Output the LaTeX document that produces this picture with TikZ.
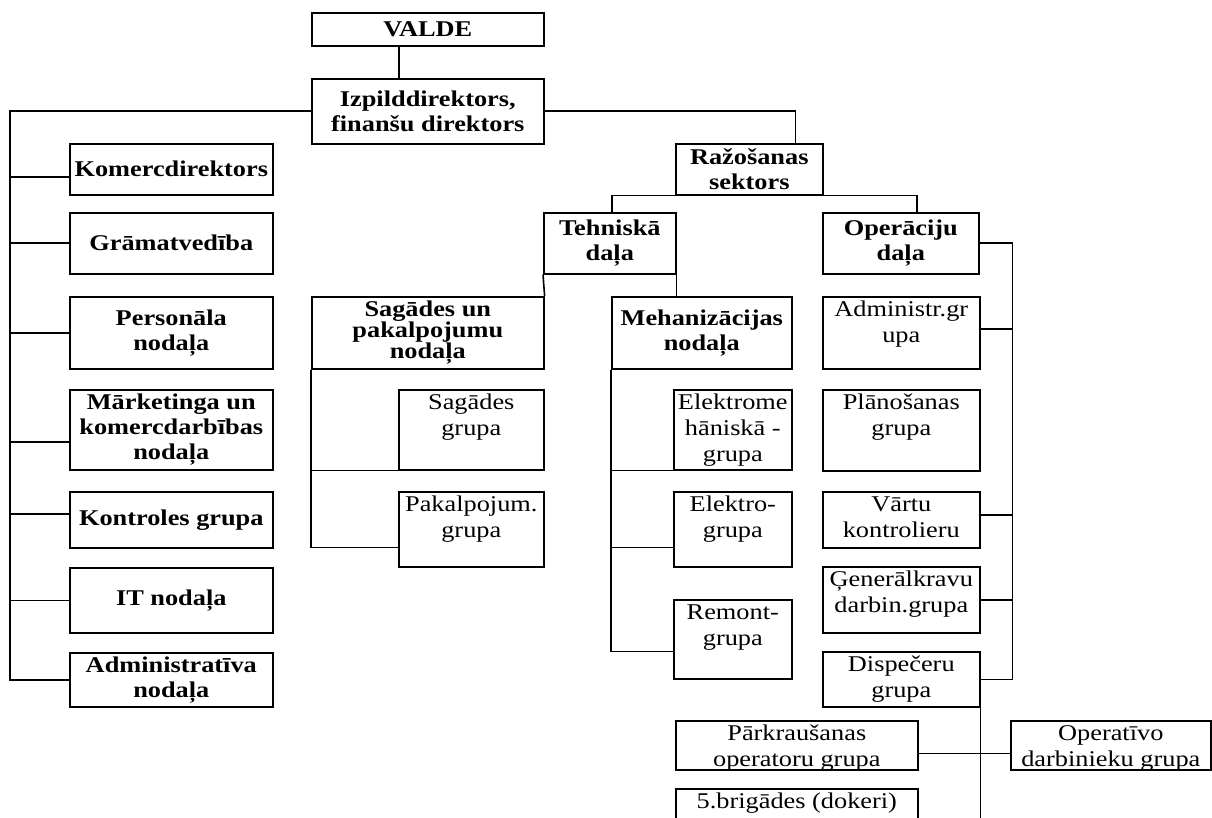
\documentclass[tikz,border=0pt]{standalone}
\usepackage{fontspec}
\setmainfont{Liberation Serif}[FakeStretch=1.17]
\usepackage{tikz}

\tikzset{
  unit/.style={draw, anchor=north west, inner sep=0pt, align=center,
    font=\bfseries\fontsize{22.5}{25}\selectfont},
  grp/.style 2 args={draw, anchor=north west, inner sep=0pt, align=center,
    font=\fontsize{22.5}{26}\selectfont, text height=#1, text depth=#2}
}

\begin{document}
\begin{tikzpicture}[x=1pt, y=-1pt, line width=1.6pt]
    \useasboundingbox (0,0) rectangle (1212,818);

    \node[unit, minimum width=232pt, minimum height=33pt] (valde) at (311,12) {VALDE};
    \node[unit, minimum width=232pt, minimum height=65pt] (izp) at (311,78) {Izpilddirektors,\\finanšu direktors};

    \node[unit, minimum width=203pt, minimum height=51pt] (kom) at (69,143) {Komercdirektors};
    \node[unit, minimum width=203pt, minimum height=61pt] (gram) at (69,212) {Grāmatvedība};
    \node[unit, minimum width=203pt, minimum height=72pt] (pers) at (69,296) {Personāla\\nodaļa};
    \node[unit, minimum width=203pt, minimum height=80pt] (mark) at (69,389) {Mārketinga un\\komercdarbības\\nodaļa};
    \node[unit, minimum width=203pt, minimum height=56pt] (kontr) at (69,491) {Kontroles grupa};
    \node[unit, minimum width=203pt, minimum height=65pt] (it) at (69,567) {IT nodaļa};
    \node[unit, minimum width=203pt, minimum height=54pt] (adm) at (69,652) {Administratīva\\nodaļa};

    \node[unit, minimum width=147pt, minimum height=51pt] (raz) at (675,143) {Ražošanas\\sektors};
    \node[unit, minimum width=132pt, minimum height=61pt] (teh) at (543,212) {Tehniskā\\daļa};
    \node[unit, minimum width=156pt, minimum height=61pt] (oper) at (822,212) {Operāciju\\daļa};
    \node[unit, minimum width=232pt, minimum height=72pt] (sag) at (311,296) {Sagādes un\\[-4pt]pakalpojumu\\[-4pt]nodaļa};
    \node[unit, minimum width=180pt, minimum height=72pt] (meh) at (611,296) {Mehanizācijas\\nodaļa};

    \node[grp={46pt}{34pt}, minimum width=145pt] (sgr) at (398,389) {Sagādes\\grupa};
    \node[grp={46pt}{29pt}, minimum width=145pt] (pgr) at (398,491) {Pakalpojum.\\grupa};

    \node[grp={72pt}{8pt}, minimum width=118pt] (elm) at (673,389) {Elektrome\\hāniskā -\\grupa};
    \node[grp={46pt}{29pt}, minimum width=118pt] (elg) at (673,491) {Elektro-\\grupa};
    \node[grp={46pt}{33pt}, minimum width=118pt] (rem) at (673,599) {Remont-\\grupa};

    \node[grp={46pt}{26pt}, minimum width=157pt] (adg) at (822,296) {Administr.gr\\upa};
    \node[grp={46pt}{35pt}, minimum width=157pt] (plan) at (822,389) {Plānošanas\\grupa};
    \node[grp={46pt}{10pt}, minimum width=157pt] (vart) at (822,491) {Vārtu\\kontrolieru};
    \node[grp={46pt}{20pt}, minimum width=157pt] (gen) at (822,566) {Ģenerālkravu\\darbin.grupa};
    \node[grp={46pt}{9pt}, minimum width=157pt] (disp) at (822,651) {Dispečeru\\grupa};

    \node[grp={46pt}{3pt}, minimum width=242pt] (park) at (675,720) {Pārkraušanas\\operatoru grupa};
    \node[grp={46pt}{3pt}, minimum width=200pt] (opd) at (1010,720) {Operatīvo\\darbinieku grupa};
    \node[grp={20pt}{14pt}, minimum width=242pt] (brig) at (675,788) {5.brigādes (dokeri)};

    \coordinate (lbus) at ([xshift=-301pt]izp.west);
    \coordinate (rbus) at ([xshift=33pt]oper.east);

    \draw ([xshift=-29pt]valde.south) -- ([xshift=-29pt]izp.north);
    \draw (izp.west) -- (lbus) |- (adm.west);
    \foreach \n/\s in {kom/-8, gram/0, pers/0, mark/-12, kontr/6, it/0} {
        \path ([yshift=\s pt]\n.west) coordinate (k);
        \draw (k) -- (lbus |- k);
    }

    \draw (izp.east) -| ([xshift=46pt]raz.north);
    \draw ([xshift=2pt]teh.north) |- (raz.south) -| ([xshift=16pt]oper.north);
    \draw (teh.south west) -- (sag.north east);
    \draw (teh.south east) -- (teh.south east |- meh.north);

    \draw (sag.south west) |- ([yshift=-18pt]pgr.west);
    \draw (sgr.south west) -- (sag.south west |- sgr.south west);
    \draw (meh.south west) |- ([yshift=-12pt]rem.west);
    \draw (elm.south west) -- (meh.south west |- elm.south west);
    \path ([yshift=-18pt]elg.west) coordinate (k);
    \draw (k) -- (meh.south west |- k);

    \draw (oper.east) -- (rbus) |- (disp.east);
    \foreach \n/\s in {adg/4, vart/5, gen/0} {
        \path ([yshift=\s pt]\n.east) coordinate (k);
        \draw (k) -- (rbus |- k);
    }

    \draw (disp.south east) -- (disp.south east |- brig.south);
    \draw ([yshift=-8pt]park.east) -- ([yshift=-8pt]opd.west);
\end{tikzpicture}
\end{document}
